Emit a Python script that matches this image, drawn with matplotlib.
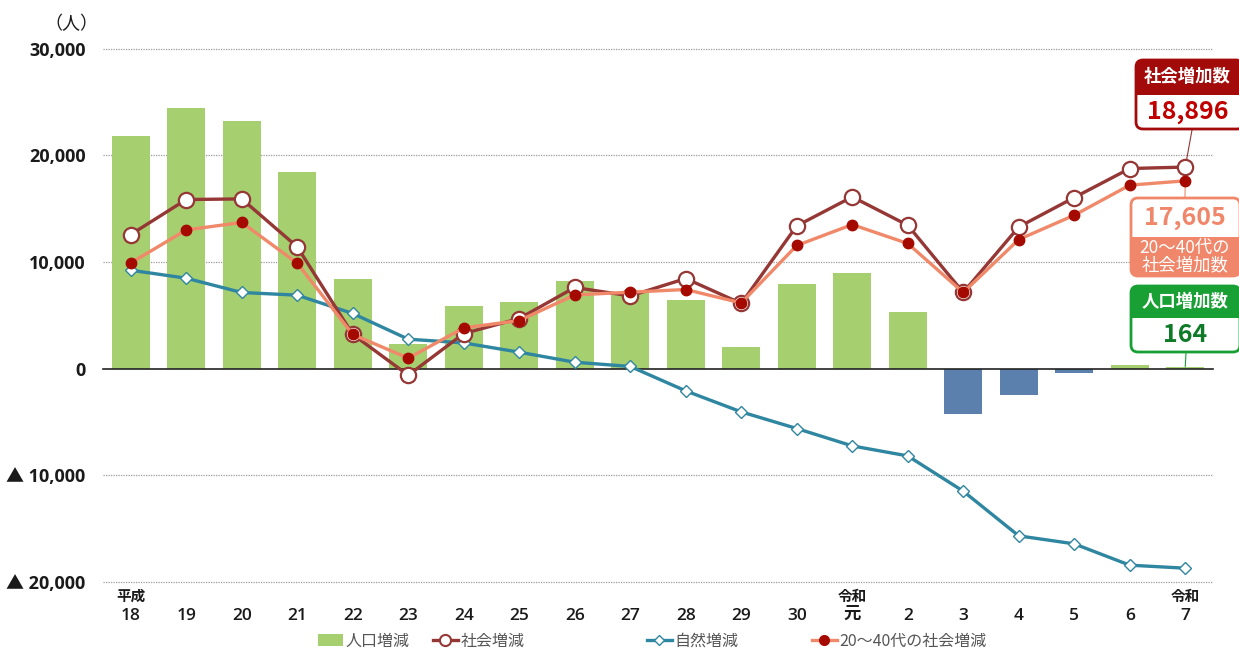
import matplotlib
matplotlib.use("Agg")
import matplotlib.pyplot as plt
import matplotlib.transforms as mtransforms
from matplotlib.patches import FancyBboxPatch, Rectangle
from matplotlib.lines import Line2D
from matplotlib.patches import Patch
import numpy as np

plt.rcParams['font.family'] = ['Noto Sans CJK JP', 'DejaVu Sans']
NUM_FONT = ['Open Sans', 'Noto Sans CJK JP', 'DejaVu Sans']

# ---- data ----
years = ['18', '19', '20', '21', '22', '23', '24', '25', '26', '27', '28', '29', '30',
         '元', '2', '3', '4', '5', '6', '7']
era_labels = {0: '平成', 13: '令和', 19: '令和'}

pop_change = [21800, 24400, 23200, 18400, 8380, 2280, 5840, 6250, 8190, 7040, 6400, 2030, 7880,
              9000, 5280, -4290, -2470, -410, 370, 164]
social_change = [12570, 15850, 15910, 11410, 3200, -630, 3280, 4690, 7600, 6810, 8440, 6100, 13380,
                 16100, 13440, 7130, 13280, 16040, 18760, 18896]
natural_change = [9220, 8470, 7130, 6880, 5160, 2750, 2400, 1530, 590, 190, -2100, -4070, -5630,
                  -7260, -8200, -11510, -15700, -16450, -18450, -18732]
young_social = [9900, 13000, 13700, 9880, 3190, 970, 3810, 4500, 6900, 7160, 7410, 6150, 11540,
                13500, 11730, 7130, 12100, 14380, 17200, 17605]

yticks = [-20000, -10000, 0, 10000, 20000, 30000]
ytick_labels = ['▲ 20,000', '▲ 10,000', '0', '10,000', '20,000', '30,000']

legend_labels = ['人口増減', '社会増減', '自然増減', '20〜40代の社会増減']

# ---- colors ----
c_bar_pos = '#a6cf70'
c_bar_neg = '#5b80ae'
c_social = '#953735'
c_young_line = '#f0896a'
c_young_mk = '#a50a00'
c_nat = '#2f86a0'

W, H = 1239, 648
fig = plt.figure(figsize=(W / 100, H / 100), dpi=100)
ax = fig.add_axes([103 / W, 1 - 581.7 / H, (1213 - 103) / W, (581.7 - 48.7) / H])

x = np.arange(len(years))
colors = [c_bar_pos if v >= 0 else c_bar_neg for v in pop_change]
ax.bar(x, pop_change, width=0.68, color=colors, zorder=2)

ax.plot(x, natural_change, color=c_nat, lw=2.4, marker='D', markersize=6,
        markerfacecolor='white', markeredgecolor=c_nat, markeredgewidth=1.0, zorder=3)
ax.plot(x, social_change, color=c_social, lw=2.4, marker='o', markersize=11,
        markerfacecolor='white', markeredgecolor=c_social, markeredgewidth=1.6, zorder=4)
ax.plot(x, young_social, color=c_young_line, lw=2.4, marker='o', markersize=7.5,
        markerfacecolor=c_young_mk, markeredgecolor=c_young_mk, zorder=5)

ax.set_xlim(-0.5, len(years) - 0.5)
ax.set_ylim(-20000, 30000)
ax.set_yticks(yticks)
ax.set_yticklabels(ytick_labels, fontsize=13, fontweight='bold', color='#1a1a1a', family=NUM_FONT)
ax.set_xticks(x)
ax.set_xticklabels(years, fontsize=12.5, fontweight='semibold', color='#1a1a1a', family=NUM_FONT)
ax.tick_params(axis='both', length=0)
ax.tick_params(axis='y', pad=12.5)
ax.tick_params(axis='x', pad=19)
for s in ax.spines.values():
    s.set_visible(False)
for yv in yticks:
    if yv == 0:
        ax.axhline(0, color='#222222', lw=1.2, zorder=2.5, clip_on=False)
    else:
        ax.axhline(yv, color='#9a9a9a', lw=0.9, ls=(0, (1, 1)), zorder=1, clip_on=False)

blend = mtransforms.blended_transform_factory(ax.transData, ax.transAxes)
for i, lab in era_labels.items():
    ax.text(i, -0.027, lab, transform=blend, ha='center', va='center',
            fontsize=10.5, fontweight='bold', color='#1a1a1a')

fig.text(71 / W, 1 - 24 / H, '（人）', ha='center', va='center', fontsize=13, color='#1a1a1a')

# legend: each entry placed on its own, as in the reference
handles = [
    Patch(facecolor=c_bar_pos, edgecolor='none'),
    Line2D([], [], color=c_social, lw=2.4, marker='o', markersize=8,
           markerfacecolor='white', markeredgecolor=c_social, markeredgewidth=1.5),
    Line2D([], [], color=c_nat, lw=2.4, marker='D', markersize=5,
           markerfacecolor='white', markeredgecolor=c_nat),
    Line2D([], [], color=c_young_line, lw=2.4, marker='o', markersize=7,
           markerfacecolor=c_young_mk, markeredgecolor=c_young_mk),
]
leg_x = [318, 433, 647, 812]
for h, lab, lx in zip(handles, legend_labels, leg_x):
    fig.legend([h], [lab], loc='center left', bbox_to_anchor=(lx / W, 1 - 641 / H),
               frameon=False, fontsize=11.5, handlelength=1.55, handletextpad=0.15,
               borderpad=0, borderaxespad=0, labelcolor='#555555')

# ---- callout boxes (pixel coordinates, top-left origin) ----
pix = mtransforms.Affine2D().scale(1, -1).translate(0, H).scale(0.01) + fig.dpi_scale_trans
flip = mtransforms.Affine2D().scale(1, -1) + pix


def callout(x0, x1, y0, ymid, y1, color, top_fill, top_text, bot_text, top_style, bot_style):
    r = 7
    if top_fill:
        fig.add_artist(FancyBboxPatch((x0, -ymid), x1 - x0, ymid - y0,
                                      boxstyle=f'round,pad=0,rounding_size={r}',
                                      facecolor=color, edgecolor='none', transform=flip))
        fig.add_artist(Rectangle((x0, ymid - r), x1 - x0, r, facecolor=color, edgecolor='none',
                                 transform=pix))
    else:
        fig.add_artist(FancyBboxPatch((x0, -y1), x1 - x0, y1 - ymid,
                                      boxstyle=f'round,pad=0,rounding_size={r}',
                                      facecolor=color, edgecolor='none', transform=flip))
        fig.add_artist(Rectangle((x0, ymid), x1 - x0, r, facecolor=color, edgecolor='none',
                                 transform=pix))
    fig.add_artist(FancyBboxPatch((x0, -y1), x1 - x0, y1 - y0,
                                  boxstyle=f'round,pad=0,rounding_size={r}',
                                  facecolor='none', edgecolor=color, lw=2.0, transform=flip))
    cx = (x0 + min(x1, W)) / 2
    fig.text(cx, (y0 + ymid) / 2, top_text, transform=pix, ha='center', va='center', **top_style)
    fig.text(cx, (ymid + y1) / 2, bot_text, transform=pix, ha='center', va='center', **bot_style)


callout(1136, 1244, 60, 95, 129, '#a30a0a', True, '社会増加数', '18,896',
        dict(fontsize=12.5, fontweight='bold', color='white'),
        dict(fontsize=18, fontweight='bold', color='#c00000'))
callout(1131, 1240, 198, 237, 276, '#f0876a', False, '17,605', '20〜40代の\n社会増加数',
        dict(fontsize=18, fontweight='bold', color='#f0876a'),
        dict(fontsize=12.5, color='white', linespacing=0.95))
callout(1131, 1240, 286, 318, 352, '#19a035', True, '人口増加数', '164',
        dict(fontsize=12.5, fontweight='bold', color='white'),
        dict(fontsize=18, fontweight='bold', color='#0f7a28'))

# leader lines
last = len(years) - 1
ax.annotate('', xy=(last, social_change[last]), xytext=(1192, 130), textcoords=pix,
            arrowprops=dict(arrowstyle='-', color=c_social, lw=0.8, shrinkA=0, shrinkB=6))
ax.annotate('', xy=(last, young_social[last]), xytext=(1185, 197), textcoords=pix,
            arrowprops=dict(arrowstyle='-', color=c_young_line, lw=0.8, shrinkA=0, shrinkB=4))
ax.annotate('', xy=(last, pop_change[last]), xytext=(1186, 353), textcoords=pix,
            arrowprops=dict(arrowstyle='-', color='#19a035', lw=0.8, shrinkA=0, shrinkB=0))

fig.savefig('out.png', dpi=100)
